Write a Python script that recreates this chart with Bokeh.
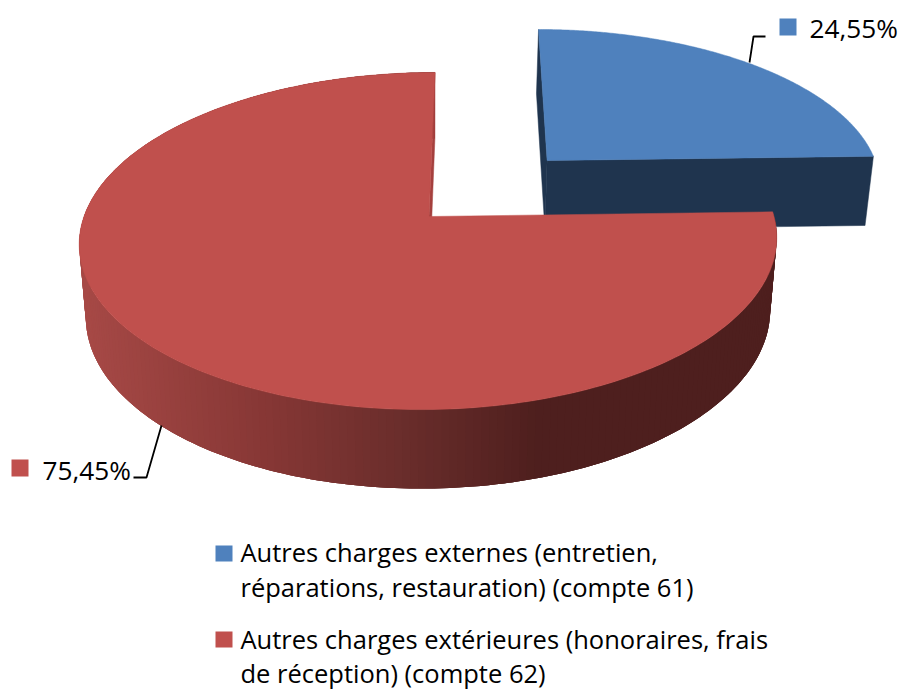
import numpy as np
from bokeh.embed import file_html
from bokeh.resources import INLINE
from bokeh.plotting import figure
from bokeh.models import Range1d
from bokeh.core.properties import value

# ---- data
categories = ["Autres charges externes (entretien, réparations, restauration) (compte 61)",
              "Autres charges extérieures (honoraires, frais de réception) (compte 62)"]
shares = [24.55, 75.45]
share_labels = ["24,55%", "75,45%"]
legend_lines = [["Autres charges externes (entretien,", "réparations, restauration) (compte 61)"],
                ["Autres charges extérieures (honoraires, frais", "de réception) (compte 62)"]]
top_colors = ["#4F81BD", "#C0504D"]

# ---- layout / style (pixels)
W, H = 902, 691
FONT = "Open Sans"
CX, CY, A, K, P, S = 428.5, 216.0, 345.0, 165.0, 0.1454, 0.02
B_CX, B_CY, B_A, B_K = 428.5, 287.5, 338.5, 171.4
EXPLODE = (0.353, 0.357)
BLUE_WALL = "#1F344E"
RED_INNER = "#A5403E"
GRAD_X = [80, 260, 400, 540, 790]
GRAD_R = [168, 136, 107, 78, 78]
GRAD_G = [74, 56, 46, 31, 31]
GRAD_B = [71, 54, 44, 30, 30]


def top(u, v):
    u, v = np.asarray(u, float), np.asarray(v, float)
    d = 1 + P * v
    return CX + A * (u + S * v) / d, CY - K * v / d


def bottom(u, v):
    u, v = np.asarray(u, float), np.asarray(v, float)
    d = 1 + P * v
    return B_CX + B_A * (u + S * v) / d, B_CY - B_K * v / d


def arc(a0, a1, off=(0.0, 0.0), n=240):
    t = np.radians(np.linspace(a0, a1, n))
    return off[0] + np.sin(t), off[1] + np.cos(t)


p = figure(width=W, height=H, output_backend="svg", toolbar_location=None,
           x_range=Range1d(0, W), y_range=Range1d(H, 0),
           min_border=0, outline_line_color=None, background_fill_color="white")
p.axis.visible = False
p.grid.visible = False

split = shares[0] / sum(shares) * 360.0

# blue slice (exploded)
au, av = arc(0, split, EXPLODE)
ox, oy = EXPLODE
for (iu, iv) in ((au[-1], av[-1]), (au[0], av[0])):
    tx, ty = top([ox, iu], [oy, iv])
    bx, by = bottom([ox, iu], [oy, iv])
    p.patch(list(tx) + list(bx[::-1]), list(ty) + list(by[::-1]),
            fill_color=BLUE_WALL, line_color=BLUE_WALL, line_width=0.5)
tx, ty = top(np.r_[ox, au], np.r_[oy, av])
p.patch(tx, ty, fill_color=top_colors[0], line_color=top_colors[0], line_width=0.5)

# red outer wall as shaded strips, each overlapping the next one
ru, rv = arc(split, 360.0)
tx, ty = top(ru, rv)
bx, by = bottom(ru, rv)
xs, ys, cols = [], [], []
for i in range(len(ru) - 1):
    j = min(i + 3, len(ru) - 1)
    xs.append(list(tx[i:j + 1]) + list(bx[i:j + 1][::-1]))
    ys.append(list(ty[i:j + 1]) + list(by[i:j + 1][::-1]))
    m = (tx[i] + tx[i + 1] + bx[i] + bx[i + 1]) / 4
    c = [int(np.interp(m, GRAD_X, g)) for g in (GRAD_R, GRAD_G, GRAD_B)]
    cols.append("#%02X%02X%02X" % tuple(c))
p.patches(xs, ys, fill_color=cols, line_color=None)

# red inner wall at 12 o'clock
tx, ty = top([0, ru[-1]], [0, rv[-1]])
bx, by = bottom([0, ru[-1]], [0, rv[-1]])
p.patch(list(tx) + list(bx[::-1]), list(ty) + list(by[::-1]),
        fill_color=RED_INNER, line_color=RED_INNER, line_width=0.5)

# red top
tx, ty = top(np.r_[0, ru], np.r_[0, rv])
p.patch(tx, ty, fill_color=top_colors[1], line_color=top_colors[1], line_width=0.5)

# leader lines
p.line([749, 753, 765], [62, 36, 36], line_color="black", line_width=1.8)
p.line([161, 146, 133], [425, 477, 477], line_color="black", line_width=1.8)

# data labels with keys
p.quad(left=[779, 11], right=[796, 28], top=[18, 459], bottom=[35, 476],
       fill_color=top_colors, line_color=None)
p.text([809, 42], [27, 469], text=share_labels, text_font=value(FONT),
       text_font_size="26.2px", text_color="black", text_baseline="alphabetic")

# legend
p.quad(left=[215, 215], right=[232, 232], top=[545, 631], bottom=[561, 647],
       fill_color=top_colors, line_color=None)
leg_y = [551, 586, 638, 672]
leg_x = [240, 240, 240, 240]
flat = [s for pair in legend_lines for s in pair]
p.text(leg_x, leg_y, text=flat, text_font=value(FONT), text_font_size="25.5px",
       text_color="black", text_baseline="alphabetic")

open("out.html", "w").write(file_html(p, INLINE))
